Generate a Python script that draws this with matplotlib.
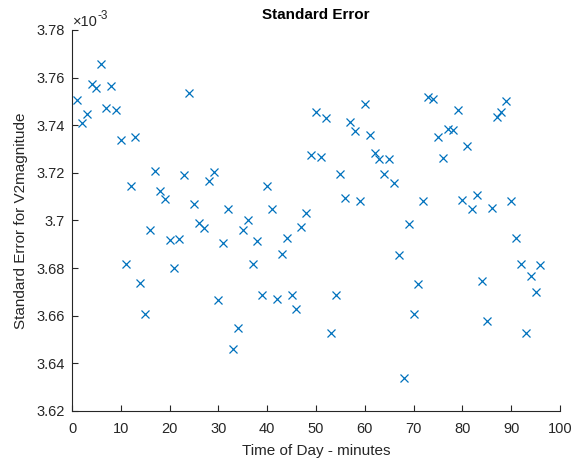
import numpy as np
import matplotlib
matplotlib.use('Agg')
import matplotlib.pyplot as plt
from matplotlib.ticker import FuncFormatter

# minutes (sample index) and standard error values (x 1e-3)
minutes = list(range(1, 97))
std_err_e3 = [
    3.7505, 3.7411, 3.7449, 3.7575, 3.7558, 3.7656, 3.7474, 3.7564, 3.7465, 3.7339,
    3.6816, 3.7144, 3.7351, 3.6736, 3.6606, 3.6960, 3.7207, 3.7123, 3.7089, 3.6918,
    3.6799, 3.6922, 3.7191, 3.7534, 3.7068, 3.6988, 3.6967, 3.7166, 3.7205, 3.6665,
    3.6906, 3.7048, 3.6459, 3.6549, 3.6960, 3.7002, 3.6816, 3.6914, 3.6686, 3.7145,
    3.7050, 3.6672, 3.6858, 3.6927, 3.6686, 3.6627, 3.6973, 3.7032, 3.7275, 3.7457,
    3.7267, 3.7432, 3.6528, 3.6687, 3.7197, 3.7093, 3.7415, 3.7376, 3.7082, 3.7488,
    3.7359, 3.7285, 3.7258, 3.7194, 3.7258, 3.7159, 3.6854, 3.6337, 3.6985, 3.6607,
    3.6732, 3.7081, 3.7518, 3.7510, 3.7351, 3.7264, 3.7383, 3.7379, 3.7463, 3.7086,
    3.7313, 3.7047, 3.7107, 3.6745, 3.6577, 3.7051, 3.7435, 3.7455, 3.7501, 3.7082,
    3.6925, 3.6819, 3.6526, 3.6767, 3.6701, 3.6812,
]
std_err = np.array(std_err_e3) * 1e-3

plt.rcParams['font.family'] = ['Liberation Sans', 'DejaVu Sans']
axis_color = '#262626'

fig = plt.figure(figsize=(5.73, 4.59), dpi=100)
ax = fig.add_axes([0.1257, 0.1046, 0.8516, 0.8301])

ax.plot(minutes, std_err, linestyle='none', marker='x', color='#0072BD',
        markersize=5.5, markeredgewidth=0.9)

ax.set_xlim(0, 100)
ax.set_ylim(3.62e-3, 3.78e-3)
ax.set_xticks(range(0, 101, 10))
ax.set_yticks(np.arange(3.62, 3.781, 0.02) * 1e-3)
ax.yaxis.set_major_formatter(FuncFormatter(lambda v, p: '%g' % round(v * 1e3, 4)))

ax.spines['top'].set_visible(False)
ax.spines['right'].set_visible(False)
for s in ['left', 'bottom']:
    ax.spines[s].set_color(axis_color)
    ax.spines[s].set_linewidth(0.8)
ax.tick_params(direction='in', length=4, width=0.8, colors=axis_color,
               labelsize=10.5, labelcolor=axis_color)
ax.tick_params(axis='x', pad=8)
ax.tick_params(axis='y', pad=5)

ax.set_xlabel('Time of Day - minutes', fontsize=11, color=axis_color, labelpad=6)
ax.set_ylabel('Standard Error for V2magnitude', fontsize=11, color=axis_color, labelpad=6)
ax.set_title('Standard Error', fontsize=11, fontweight='bold', color='black', pad=8)

# exponent label, MATLAB style
ax.annotate('\u00d710', xy=(0, 1), xycoords='axes fraction', xytext=(1, 1),
            textcoords='offset points', fontsize=10.5, color=axis_color,
            ha='left', va='bottom')
ax.annotate('-3', xy=(0, 1), xycoords='axes fraction', xytext=(18.5, 6),
            textcoords='offset points', fontsize=8.5, color=axis_color,
            ha='left', va='bottom')

fig.savefig('out.png', dpi=100)
